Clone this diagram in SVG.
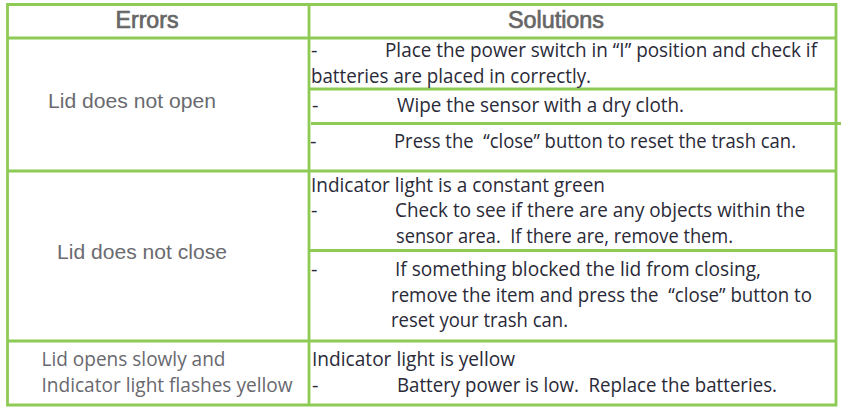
<svg xmlns="http://www.w3.org/2000/svg" width="841" height="411" viewBox="0 0 841 411">
<style>
.l{stroke:#8ecb55;stroke-width:2.8;fill:none}
.h{font-family:"Liberation Sans",Arial,sans-serif;font-size:23.500px;fill:#666;stroke:#666;stroke-width:.7;text-anchor:middle}
.e{font-family:"Liberation Sans",Arial,sans-serif;font-size:20.500px;fill:#6a6a70}
.m{font-family:"Open Sans",sans-serif;font-size:20px;fill:#68686e;white-space:pre}
.t{font-family:"Open Sans",sans-serif;font-size:20px;fill:#2a2a38;white-space:pre}
</style>
<rect width="841" height="411" fill="#fff"/>
<g id="grid" class="l">
<path d="M7.500 4.500H836V405H7.500Z"/>
<path d="M309 3V405"/>
<path d="M7.500 38H836"/>
<path d="M7.500 171H836"/>
<path d="M7.500 341H836"/>
<path d="M309 89H836"/>
<path d="M311 123.500H841"/>
<path d="M309 250.500H836"/>
</g>
<g id="header-errors"><text class="h" x="147" y="27.500" textLength="63" lengthAdjust="spacingAndGlyphs">Errors</text></g>
<g id="header-solutions"><text class="h" x="556" y="28" textLength="96" lengthAdjust="spacingAndGlyphs">Solutions</text></g>
<g id="error-1"><text class="e" x="48" y="108" textLength="168" lengthAdjust="spacingAndGlyphs">Lid does not open</text></g>
<g id="error-2"><text class="e" x="57" y="258.500" textLength="170" lengthAdjust="spacingAndGlyphs">Lid does not close</text></g>
<g id="error-3">
<text class="m" x="41.500" y="366" textLength="184" lengthAdjust="spacingAndGlyphs">Lid opens slowly and</text>
<text class="m" x="41.500" y="392" textLength="251" lengthAdjust="spacingAndGlyphs">Indicator light flashes yellow</text>
</g>
<g id="solution-1">
<text class="t" x="311" y="57">-</text>
<text class="t" x="385" y="57" textLength="432" lengthAdjust="spacingAndGlyphs">Place the power switch in “I” position and check if</text>
<text class="t" x="311" y="83" textLength="280" lengthAdjust="spacingAndGlyphs">batteries are placed in correctly.</text>
</g>
<g id="solution-2">
<text class="t" x="312" y="112">-</text>
<text class="t" x="397" y="112" textLength="287" lengthAdjust="spacingAndGlyphs">Wipe the sensor with a dry cloth.</text>
</g>
<g id="solution-3">
<text class="t" x="310" y="148">-</text>
<text class="t" x="394" y="148" textLength="402" lengthAdjust="spacingAndGlyphs">Press the  “close” button to reset the trash can.</text>
</g>
<g id="solution-4">
<text class="t" x="311" y="192" textLength="294" lengthAdjust="spacingAndGlyphs">Indicator light is a constant green</text>
<text class="t" x="311" y="217">-</text>
<text class="t" x="395" y="217" textLength="410" lengthAdjust="spacingAndGlyphs">Check to see if there are any objects within the</text>
<text class="t" x="396" y="243" textLength="337" lengthAdjust="spacingAndGlyphs">sensor area.  If there are, remove them.</text>
</g>
<g id="solution-5">
<text class="t" x="311" y="276">-</text>
<text class="t" x="395" y="276" textLength="366" lengthAdjust="spacingAndGlyphs">If something blocked the lid from closing,</text>
<text class="t" x="391" y="302" textLength="421" lengthAdjust="spacingAndGlyphs">remove the item and press the  “close” button to</text>
<text class="t" x="391" y="327" textLength="177" lengthAdjust="spacingAndGlyphs">reset your trash can.</text>
</g>
<g id="solution-6">
<text class="t" x="312" y="366" textLength="203" lengthAdjust="spacingAndGlyphs">Indicator light is yellow</text>
<text class="t" x="312" y="392">-</text>
<text class="t" x="397" y="392" textLength="380" lengthAdjust="spacingAndGlyphs">Battery power is low.  Replace the batteries.</text>
</g>
</svg>
